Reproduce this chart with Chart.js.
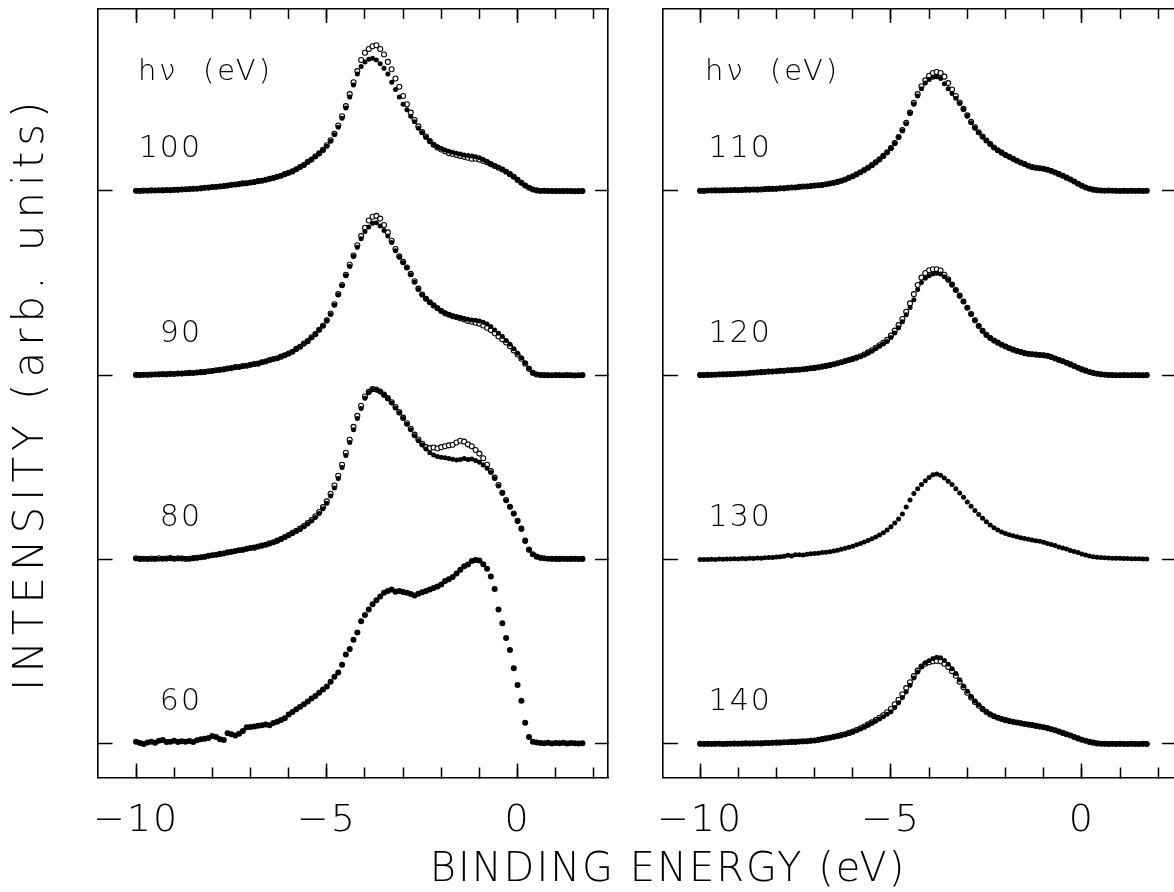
<!DOCTYPE html>
<html>
<head>
<meta charset="utf-8">
<script src="https://cdn.jsdelivr.net/npm/chart.js@4/dist/chart.umd.min.js"></script>
<style>
html, body { margin: 0; padding: 0; background: #fff; width: 1174px; height: 892px; overflow: hidden; }
#wrap { position: relative; width: 1174px; height: 892px; overflow: hidden; background: #fff; }
canvas { position: absolute; top: 0; }
#leftPanel { left: 0; }
#rightPanel { left: 630px; }
</style>
</head>
<body>
<div id="wrap">
  <canvas id="leftPanel" width="1336" height="892"></canvas>
  <canvas id="rightPanel" width="560" height="892"></canvas>
</div>
<script>
// ---------------- data ----------------
const energy = [
  -10.0,-9.9,-9.8,-9.7,-9.6,-9.5,-9.4,-9.3,-9.2,-9.1,
  -9.0,-8.9,-8.8,-8.7,-8.6,-8.5,-8.4,-8.3,-8.2,-8.1,
  -8.0,-7.9,-7.8,-7.7,-7.6,-7.5,-7.4,-7.3,-7.2,-7.1,
  -7.0,-6.9,-6.8,-6.7,-6.6,-6.5,-6.4,-6.3,-6.2,-6.1,
  -6.0,-5.9,-5.8,-5.7,-5.6,-5.5,-5.4,-5.3,-5.2,-5.1,
  -5.0,-4.9,-4.8,-4.7,-4.6,-4.5,-4.4,-4.3,-4.2,-4.1,
  -4.0,-3.9,-3.8,-3.7,-3.6,-3.5,-3.4,-3.3,-3.2,-3.1,
  -3.0,-2.9,-2.8,-2.7,-2.6,-2.5,-2.4,-2.3,-2.2,-2.1,
  -2.0,-1.9,-1.8,-1.7,-1.6,-1.5,-1.4,-1.3,-1.2,-1.1,
  -1.0,-0.9,-0.8,-0.7,-0.6,-0.5,-0.4,-0.3,-0.2,-0.1,
  0.0,0.1,0.2,0.3,0.4,0.5,0.6,0.7,0.8,0.9,
  1.0,1.1,1.2,1.3,1.4,1.5,1.6,1.7
];

// hv = 100 eV (filled / open)
const filled100 = [
  0.0,0.2,0.0,0.3,0.2,0.4,0.3,0.5,0.4,0.6,
  0.5,0.7,0.9,0.8,1.1,1.0,1.3,1.5,1.6,1.9,
  2.0,2.2,2.5,2.6,3.0,3.2,3.4,3.8,4.0,4.3,
  4.5,4.9,5.2,5.6,6.0,6.5,7.1,7.6,8.3,9.0,
  9.8,10.7,11.7,12.9,14.2,15.6,17.1,18.6,20.2,22.0,
  24.3,27.0,30.5,34.5,39.5,45.0,51.0,57.5,63.5,67.5,
  70.0,71.5,72.0,71.0,69.0,66.5,63.5,59.0,55.0,51.0,
  47.0,44.0,40.5,37.5,34.0,31.5,29.0,27.0,25.0,24.0,
  23.0,22.2,21.5,21.0,20.5,20.0,19.5,19.2,19.0,18.5,
  18.0,17.0,16.0,14.8,13.8,12.8,11.8,10.5,9.2,7.8,
  6.2,4.5,3.0,1.8,0.9,0.3,0.1,0.0,0.1,-0.1,
  0.0,-0.2,0.0,-0.1,-0.2,-0.1,-0.2,0.0
];
const open100 = [
  0.1,0.0,0.2,0.1,0.3,0.2,0.4,0.3,0.5,0.4,
  0.6,0.6,0.8,0.9,1.0,1.2,1.2,1.4,1.7,1.8,
  2.1,2.3,2.4,2.7,2.9,3.3,3.5,3.7,4.1,4.2,
  4.6,4.8,5.3,5.5,6.1,6.6,7.0,7.7,8.2,9.1,
  9.9,10.6,11.8,13.0,14.1,15.8,17.0,18.8,20.4,22.3,
  24.8,27.5,31.0,35.5,40.5,46.0,52.5,59.0,65.0,71.0,
  75.0,77.0,78.5,79.0,77.0,74.0,70.0,66.0,61.0,56.5,
  51.5,47.0,42.5,38.5,35.0,32.0,29.5,27.0,25.0,23.5,
  22.5,21.5,20.5,20.0,19.5,19.0,18.5,18.0,17.5,17.5,
  17.0,16.3,15.5,14.5,13.5,12.6,11.6,10.4,9.1,7.7,
  6.0,4.4,2.9,1.7,0.8,0.3,0.0,0.1,0.0,0.0,
  -0.1,0.0,-0.1,0.0,-0.1,-0.2,-0.1,-0.1
];

// hv = 90 eV
const filled90 = [
  0.0,0.3,0.1,0.4,0.2,0.5,0.6,0.4,0.7,0.6,
  0.9,0.8,1.0,1.2,1.1,1.3,1.4,1.6,1.9,2.1,
  2.4,2.6,2.9,3.3,3.6,4.0,4.3,4.6,4.9,5.3,
  5.6,6.0,6.4,7.0,7.6,8.2,8.7,9.3,10.0,10.8,
  11.7,12.9,14.2,15.6,17.0,18.6,20.4,22.4,24.5,26.8,
  29.5,33.0,38.0,43.5,48.5,54.0,59.0,64.5,69.5,74.0,
  78.0,80.5,82.5,82.8,81.0,78.5,75.5,72.0,67.5,64.0,
  61.0,58.5,54.5,50.5,46.5,43.5,41.5,39.5,38.0,36.5,
  35.0,33.8,33.0,32.3,31.8,31.3,30.8,30.4,30.0,29.8,
  29.5,28.8,27.8,26.5,24.6,22.8,21.0,18.9,16.8,14.4,
  12.0,9.5,6.8,3.8,1.4,0.5,0.2,0.0,0.1,-0.1,
  0.0,0.1,-0.1,0.0,0.1,0.0,-0.1,0.0
];
const open90 = [
  0.2,0.1,0.3,0.2,0.4,0.4,0.5,0.6,0.5,0.8,
  0.7,1.0,0.9,1.1,1.3,1.2,1.5,1.7,1.8,2.2,
  2.3,2.7,3.0,3.2,3.7,3.9,4.4,4.5,5.0,5.2,
  5.7,6.1,6.3,7.1,7.5,8.3,8.8,9.2,10.1,10.9,
  11.8,12.8,14.3,15.5,17.2,18.5,20.6,22.3,24.7,26.9,
  29.8,33.5,38.5,44.0,49.0,54.5,60.0,65.0,70.5,75.5,
  80.0,84.0,86.0,86.5,85.0,81.5,77.5,73.0,68.5,64.5,
  61.5,58.5,55.0,51.0,47.0,43.8,41.5,39.6,37.9,36.4,
  34.9,33.6,32.8,32.0,31.5,30.9,30.3,29.5,29.0,28.5,
  28.0,27.0,25.8,24.5,22.8,21.0,19.5,17.8,15.8,13.5,
  11.3,9.0,6.3,3.5,1.3,0.4,0.1,0.1,0.0,0.0,
  0.1,0.0,0.0,0.1,0.0,-0.1,0.0,0.1
];

// hv = 80 eV
const filled80 = [
  0.5,0.6,0.3,0.4,0.2,0.5,0.4,0.6,0.5,0.7,
  0.6,0.5,0.8,0.6,0.4,0.7,0.9,1.2,1.6,2.0,
  2.3,2.7,3.0,3.4,3.8,4.3,4.6,5.0,5.4,5.8,
  6.2,6.6,7.0,7.5,8.0,8.6,9.3,10.1,11.0,12.1,
  13.1,14.2,15.3,16.4,17.8,19.3,20.9,22.8,25.0,27.6,
  30.6,34.5,38.8,44.0,50.0,56.5,63.5,70.5,76.5,82.0,
  87.5,90.5,92.2,92.0,91.0,89.3,87.3,85.0,82.3,79.5,
  76.5,73.5,70.5,67.2,64.5,62.2,60.0,58.0,56.8,56.0,
  55.5,55.2,54.8,54.5,54.0,54.3,54.8,54.3,54.6,53.8,
  52.8,51.3,49.5,47.2,44.0,40.0,36.0,32.0,28.5,24.8,
  20.8,16.5,10.0,5.2,2.8,1.5,0.9,0.6,0.5,0.4,
  0.5,0.3,0.4,0.5,0.3,0.4,0.3,0.4
];
const open80 = [
  0.7,0.4,0.5,0.3,0.6,0.4,0.7,0.5,0.6,0.8,
  0.5,0.7,0.6,0.3,0.5,0.8,1.0,1.3,1.5,2.1,
  2.4,2.6,3.1,3.3,3.9,4.2,4.7,5.1,5.3,5.9,
  6.3,6.5,7.1,7.6,8.1,8.8,9.4,10.3,11.2,12.3,
  13.3,14.5,15.6,16.8,18.2,19.8,21.5,23.5,25.8,28.5,
  31.6,35.7,40.2,45.5,51.5,58.0,65.0,72.0,78.0,83.5,
  88.5,91.0,92.5,92.3,91.2,89.5,87.6,85.4,82.8,80.0,
  77.0,74.0,71.0,67.8,65.2,62.8,61.0,60.5,60.8,60.3,
  61.0,61.5,62.0,62.3,63.5,64.5,64.0,62.5,61.5,59.5,
  57.5,55.0,51.5,48.0,44.5,40.5,36.3,32.3,28.7,25.0,
  21.0,16.8,10.3,5.4,2.9,1.6,1.0,0.7,0.5,0.5,
  0.4,0.4,0.5,0.3,0.4,0.5,0.3,0.4
];

// hv = 60 eV (filled only)
const filled60 = [
  1.2,0.5,0.0,0.8,1.2,0.6,1.8,2.2,1.0,1.2,
  1.8,1.0,1.4,1.2,1.6,1.1,2.0,2.5,2.8,3.2,
  4.3,3.8,2.6,2.2,5.8,5.2,4.6,5.5,7.0,9.0,
  9.2,9.5,9.9,10.1,10.6,10.2,11.3,12.0,13.0,14.0,
  16.0,17.4,18.8,20.2,21.6,23.0,24.6,26.0,27.8,29.5,
  31.1,33.8,36.5,38.8,43.0,48.5,51.5,56.5,60.5,66.5,
  70.0,73.0,75.8,78.0,80.0,82.0,83.0,83.8,82.5,83.0,
  82.4,82.0,81.4,80.6,81.5,82.3,83.0,83.8,84.6,85.4,
  86.5,88.4,89.3,90.6,92.4,94.5,96.4,97.3,99.2,99.8,
  99.5,97.5,95.0,90.8,84.0,73.0,65.5,57.5,51.0,41.0,
  32.0,23.5,11.5,3.8,1.2,0.8,0.5,0.4,0.7,0.3,
  0.5,0.4,0.6,0.3,0.5,0.4,0.3,0.4
];

// hv = 110 eV
const filled110 = [
  0.0,0.2,0.1,0.3,0.2,0.3,0.4,0.3,0.5,0.4,
  0.5,0.6,0.5,0.7,0.6,0.8,0.9,0.8,1.0,1.2,
  1.1,1.3,1.5,1.6,1.8,2.0,2.1,2.3,2.5,2.6,
  2.8,3.0,3.3,3.5,3.9,4.3,4.8,5.4,6.1,7.0,
  7.9,8.9,10.0,11.2,12.5,13.8,15.3,16.9,18.8,20.8,
  23.0,25.7,29.0,32.5,36.5,42.0,47.0,51.5,55.5,58.5,
  60.5,61.7,62.0,61.0,58.2,55.5,52.8,50.3,47.5,44.2,
  40.5,37.0,34.0,31.5,29.3,27.3,25.3,23.4,22.0,20.6,
  19.4,18.4,17.3,16.3,15.3,14.5,13.6,12.8,12.5,12.2,
  12.0,11.6,10.9,10.1,9.2,8.3,7.3,6.3,5.2,4.0,
  2.9,2.0,1.3,0.8,0.5,0.3,0.2,0.1,0.2,0.0,
  0.1,0.0,0.1,0.0,0.1,0.0,0.1,0.0
];
const open110 = [
  0.1,0.0,0.2,0.2,0.3,0.2,0.3,0.4,0.4,0.5,
  0.4,0.5,0.7,0.6,0.8,0.7,0.8,1.0,1.1,1.1,
  1.2,1.4,1.4,1.7,1.9,1.9,2.2,2.4,2.4,2.7,
  2.9,3.1,3.2,3.6,4.0,4.4,4.9,5.5,6.2,7.1,
  8.0,9.0,10.1,11.3,12.6,14.0,15.5,17.1,19.0,21.0,
  23.3,26.0,29.3,33.0,37.0,42.5,47.8,52.5,56.8,60.0,
  62.5,64.0,64.5,64.0,62.0,58.5,55.0,51.5,48.0,44.5,
  41.0,37.5,34.5,31.8,29.5,27.4,25.4,23.6,22.1,20.8,
  19.5,18.5,17.4,16.4,15.4,14.6,13.7,12.9,12.6,12.3,
  12.0,11.5,10.8,10.0,9.1,8.2,7.2,6.2,5.1,3.9,
  2.8,1.9,1.2,0.7,0.4,0.2,0.1,0.2,0.1,0.1,
  0.0,0.1,0.0,0.1,0.0,0.1,0.0,0.1
];

// hv = 120 eV
const filled120 = [
  0.0,0.2,0.3,0.2,0.4,0.5,0.4,0.6,0.7,0.8,
  0.9,1.0,1.1,1.3,1.4,1.6,1.8,1.9,2.0,2.1,
  2.2,2.3,2.5,2.6,2.8,2.9,3.1,3.2,3.4,3.7,
  3.9,4.2,4.6,5.0,5.4,5.9,6.4,6.9,7.5,8.1,
  8.7,9.4,10.0,11.0,12.0,13.1,14.4,15.7,16.9,18.3,
  20.5,23.0,25.8,29.0,32.8,36.8,41.0,46.5,50.3,52.6,
  54.0,55.0,55.3,55.0,53.5,51.5,49.0,46.3,43.0,40.0,
  36.8,33.3,29.8,26.8,24.0,22.0,20.3,18.9,17.8,16.7,
  15.7,14.8,14.0,13.3,12.7,12.1,11.7,11.5,11.3,11.2,
  11.0,10.7,10.0,9.2,8.4,7.7,6.9,6.0,5.0,4.2,
  3.3,2.5,1.9,1.3,0.9,0.5,0.3,0.2,0.1,0.0,
  0.1,0.0,0.0,0.1,0.0,0.1,0.0,0.0
];
const open120 = [
  0.1,0.1,0.2,0.3,0.3,0.4,0.5,0.5,0.6,0.7,
  0.8,1.0,1.0,1.2,1.4,1.5,1.7,1.8,2.0,2.0,
  2.2,2.4,2.4,2.7,2.7,3.0,3.0,3.3,3.5,3.8,
  4.0,4.3,4.7,5.1,5.5,6.0,6.5,7.1,7.7,8.3,
  8.9,9.6,10.3,11.3,12.4,13.6,14.9,16.3,17.6,19.2,
  21.5,24.2,27.2,30.5,34.5,39.0,44.0,49.0,53.0,55.5,
  57.0,57.5,57.5,56.8,54.5,52.0,49.2,46.3,43.2,40.0,
  36.6,33.2,29.8,26.7,24.1,21.9,20.2,18.8,17.7,16.6,
  15.6,14.7,13.9,13.2,12.6,12.0,11.6,11.4,11.2,11.0,
  10.8,10.5,9.9,9.1,8.3,7.6,6.8,5.9,5.0,4.1,
  3.2,2.5,1.8,1.2,0.8,0.5,0.3,0.1,0.1,0.0,
  0.0,0.1,0.0,0.0,0.1,0.0,0.0,0.1
];

// hv = 130 eV (filled only)
const filled130 = [
  0.0,0.1,0.0,0.2,0.1,0.3,0.2,0.4,0.3,0.5,
  0.4,0.6,0.5,0.7,0.6,0.9,0.8,1.0,1.2,1.1,
  1.4,1.6,1.8,2.4,2.0,2.6,2.7,2.5,2.9,3.2,
  3.3,3.5,3.8,4.0,4.3,4.7,5.1,5.6,6.1,6.7,
  7.3,8.0,8.8,9.6,10.4,11.3,12.2,13.3,14.6,16.1,
  17.8,19.8,22.0,24.8,28.5,32.3,35.8,38.5,40.7,42.8,
  44.5,46.0,46.5,45.8,44.3,42.5,40.8,38.5,36.2,33.8,
  31.3,28.9,26.6,24.5,22.5,20.6,18.8,17.3,16.1,15.0,
  14.2,13.5,12.9,12.4,11.9,11.4,11.0,10.7,10.3,9.9,
  9.4,8.8,8.2,7.6,6.9,6.3,5.7,5.0,4.4,3.8,
  3.1,2.5,2.0,1.6,1.3,1.1,1.0,0.9,0.8,0.7,
  0.7,0.6,0.6,0.5,0.5,0.5,0.4,0.4
];

// hv = 140 eV
const filled140 = [
  0.0,0.1,0.0,0.1,0.0,0.2,0.1,0.0,0.2,0.1,
  0.2,0.1,0.2,0.3,0.2,0.3,0.4,0.4,0.5,0.6,
  0.6,0.7,0.8,0.9,1.0,1.1,1.2,1.3,1.4,1.6,
  1.8,2.1,2.5,2.9,3.3,3.7,4.1,4.5,5.1,5.7,
  6.4,7.2,8.1,9.1,10.1,11.2,12.3,13.6,14.8,16.1,
  17.5,19.8,22.3,25.2,28.3,31.8,35.8,39.0,42.0,44.0,
  45.2,46.3,47.1,46.8,45.3,43.2,40.8,38.2,34.8,31.5,
  28.6,25.8,23.3,21.2,19.2,17.6,16.2,15.1,14.3,13.6,
  13.0,12.5,12.1,11.7,11.3,10.9,10.6,10.3,9.9,9.5,
  9.1,8.7,8.1,7.5,6.8,6.1,5.4,4.7,3.9,3.1,
  2.4,1.8,1.2,0.8,0.4,0.2,0.0,0.1,0.0,0.1,
  0.0,0.1,0.0,0.0,0.1,0.0,0.0,0.0
];
const open140 = [
  0.1,0.0,0.1,0.0,0.1,0.1,0.0,0.1,0.1,0.2,
  0.1,0.2,0.3,0.2,0.3,0.4,0.3,0.5,0.5,0.6,
  0.7,0.7,0.9,0.9,1.1,1.1,1.3,1.4,1.5,1.7,
  1.9,2.2,2.6,3.0,3.4,3.9,4.3,4.8,5.3,6.0,
  6.7,7.6,8.5,9.5,10.6,11.7,12.9,14.2,15.6,17.2,
  19.0,21.5,24.0,27.0,30.3,33.5,36.8,39.8,42.0,43.5,
  44.3,44.8,45.0,44.8,43.5,41.8,39.5,37.0,33.8,30.7,
  27.8,25.2,22.8,20.7,18.9,17.3,16.0,15.0,14.2,13.5,
  12.9,12.4,12.0,11.6,11.2,10.8,10.5,10.2,9.8,9.4,
  9.0,8.6,8.0,7.4,6.7,6.0,5.3,4.6,3.8,3.0,
  2.3,1.7,1.1,0.7,0.3,0.1,0.1,0.0,0.1,0.0,
  0.1,0.0,0.0,0.1,0.0,0.0,0.1,0.0
];

// stacking offsets (top to bottom) and labels
const stackOffsets = [300, 200, 100, 0];
const leftPhotonEnergies = ['100', '90', '80', '60'];
const rightPhotonEnergies = ['110', '120', '130', '140'];
const leftFilled = [filled100, filled90, filled80, filled60];
const leftOpen = [open100, open90, open80, null];
const rightFilled = [filled110, filled120, filled130, filled140];
const rightOpen = [open110, open120, null, open140];

// axis ticks
const xMinorTicks = [-10, -9, -8, -7, -6, -5, -4, -3, -2, -1, 0, 1, 2];
const xMajorTicks = [-10, -5, 0];
const baselineTicks = [0, 100, 200, 300];

// ---------------- styling / layout ----------------
const FAMILY = "'DejaVu Sans', 'Liberation Sans', sans-serif";
const WEIGHT = 200;
Chart.defaults.font.family = FAMILY;
Chart.defaults.color = '#000';

function fmtEnergy(v) { return v < 0 ? '\u2212' + Math.abs(v) : String(v); }
function setTicks(list) { return (axis) => { axis.ticks = list.map(v => ({ value: v })); }; }

function series(vals, offset) { return energy.map((e, i) => ({ x: e, y: vals[i] + offset })); }

function buildDatasets(filledList, openList, bigIndex) {
  const ds = [];
  filledList.forEach((vals, k) => {
    ds.push({
      data: series(vals, stackOffsets[k]),
      pointRadius: k === bigIndex ? 3.0 : 2.5,
      pointBackgroundColor: '#000', pointBorderColor: '#000', pointBorderWidth: 0,
      showLine: false, order: 0
    });
  });
  openList.forEach((vals, k) => {
    if (!vals) return;
    ds.push({
      data: series(vals, stackOffsets[k]),
      pointRadius: 2.5,
      pointBackgroundColor: '#fff', pointBorderColor: '#000', pointBorderWidth: 1.1,
      showLine: false, order: 1
    });
  });
  return ds;
}

function tickGrid(len) {
  return { display: true, drawOnChartArea: false, drawTicks: true, tickLength: -len, tickColor: '#000', tickWidth: 1.5 };
}
const edge = { display: true, color: '#000', width: 1.6 };
const noEdge = { display: false };

function buildScales(g) {
  const common = { type: 'linear', min: g.xmin, max: g.xmax, bounds: 'data' };
  const yCommon = { type: 'linear', min: -18.2, max: 398.7, bounds: 'data', afterBuildTicks: setTicks(baselineTicks), ticks: { display: false } };
  return {
    x: Object.assign({}, common, {
      position: 'bottom', weight: 0, afterBuildTicks: setTicks(xMinorTicks),
      ticks: { display: false }, grid: tickGrid(10), border: edge,
      afterFit: s => { s.height = 0; s.paddingLeft = 0; s.paddingRight = 0; }
    }),
    xLabels: Object.assign({}, common, {
      position: 'bottom', weight: 1, afterBuildTicks: setTicks(xMajorTicks),
      ticks: {
        display: true, autoSkip: false, maxRotation: 0, minRotation: 0, padding: 38.5, color: '#000',
        font: { family: FAMILY, size: 38, weight: WEIGHT, lineHeight: 1 }, callback: fmtEnergy
      },
      grid: tickGrid(14), border: noEdge,
      afterFit: s => { s.height = g.bottomH; s.paddingLeft = 0; s.paddingRight = 0; }
    }),
    xTop: Object.assign({}, common, {
      position: 'top', weight: 0, afterBuildTicks: setTicks(xMinorTicks),
      ticks: { display: false }, grid: tickGrid(10), border: edge,
      afterFit: s => { s.height = 0; s.paddingLeft = 0; s.paddingRight = 0; }
    }),
    xTopMajor: Object.assign({}, common, {
      position: 'top', weight: 1, afterBuildTicks: setTicks(xMajorTicks),
      ticks: { display: false }, grid: tickGrid(14), border: noEdge,
      afterFit: s => { s.height = 0; s.paddingLeft = 0; s.paddingRight = 0; }
    }),
    y: Object.assign({}, yCommon, {
      position: 'left', grid: tickGrid(15), border: edge,
      title: g.yTitle,
      afterFit: s => { s.width = g.leftW; s.paddingTop = 0; s.paddingBottom = 0; }
    }),
    yRight: Object.assign({}, yCommon, {
      position: 'right', grid: tickGrid(13), border: edge,
      afterFit: s => { s.width = g.rightW; s.paddingTop = 0; s.paddingBottom = 0; }
    })
  };
}

// panel text (photon energies) drawn through the chart scales
const panelText = {
  id: 'panelText',
  afterDatasetsDraw(chart, args, opts) {
    const { ctx } = chart;
    const xs = chart.scales.x, ys = chart.scales.y;
    ctx.save();
    ctx.fillStyle = '#000';
    ctx.textBaseline = 'middle';
    for (const t of opts.items) {
      ctx.font = WEIGHT + ' ' + t.size + 'px ' + FAMILY;
      ctx.letterSpacing = t.spacing + 'px';
      ctx.textAlign = t.align;
      ctx.fillText(t.text, xs.getPixelForValue(t.x), ys.getPixelForValue(t.y));
    }
    ctx.restore();
  }
};
// letter spacing for the library-drawn texts (wide plotter-style lettering)
const spacing = {
  id: 'spacing',
  beforeDraw(chart, args, opts) {
    chart.ctx.letterSpacing = opts.base + 'px';
    const s = chart.scales.y;
    if (s && !s._spacedTitle && opts.yTitle) {
      const orig = s.drawTitle.bind(s);
      s.drawTitle = function () {
        const c = this.ctx;
        c.save();
        c.letterSpacing = opts.yTitle + 'px';
        orig();
        c.restore();
      };
      s._spacedTitle = true;
    }
  }
};

function labelItems(names, numX, hvX) {
  const items = [{ text: 'h\u03BD  (eV)', x: hvX, y: 364.5, align: 'left', size: 29, spacing: 3 }];
  names.forEach((n, k) => items.push({ text: n, x: numX, y: stackOffsets[k] + 22.5, align: 'right', size: 30, spacing: 2 }));
  return items;
}

function makeChart(id, datasets, g, items, title) {
  return new Chart(document.getElementById(id), {
    type: 'scatter',
    data: { datasets },
    options: {
      responsive: false, maintainAspectRatio: false, animation: false, devicePixelRatio: 1, events: [],
      layout: { padding: { left: 0, right: 0, top: 9, bottom: 0 } },
      scales: buildScales(g),
      plugins: {
        legend: { display: false }, tooltip: { enabled: false },
        title: title,
        panelText: { items },
        spacing: { base: 2, yTitle: 6 }
      }
    },
    plugins: [spacing, panelText]
  });
}

makeChart('leftPanel', buildDatasets(leftFilled, leftOpen, 3),
  { xmin: -11.01, xmax: 2.37, bottomH: 73.5, leftW: 97.5, rightW: 728,
    yTitle: { display: true, text: 'INTENSITY (arb. units)', color: '#000',
              font: { family: FAMILY, size: 42, weight: WEIGHT, lineHeight: 1 }, padding: { top: 11, bottom: 0 } } },
  labelItems(leftPhotonEnergies, -8.27, -9.95),
  { display: true, position: 'bottom', align: 'center', text: 'BINDING ENERGY (eV)', color: '#000',
    font: { family: FAMILY, size: 40, weight: WEIGHT, lineHeight: 1 }, padding: { top: 0, bottom: 1 }, fullSize: true });

makeChart('rightPanel', buildDatasets(rightFilled, rightOpen, -1),
  { xmin: -10.97, xmax: 2.44, bottomH: 114.5, leftW: 33, rightW: 15, yTitle: { display: false } },
  labelItems(rightPhotonEnergies, -8.12, -9.87),
  { display: false });
</script>
</body>
</html>
